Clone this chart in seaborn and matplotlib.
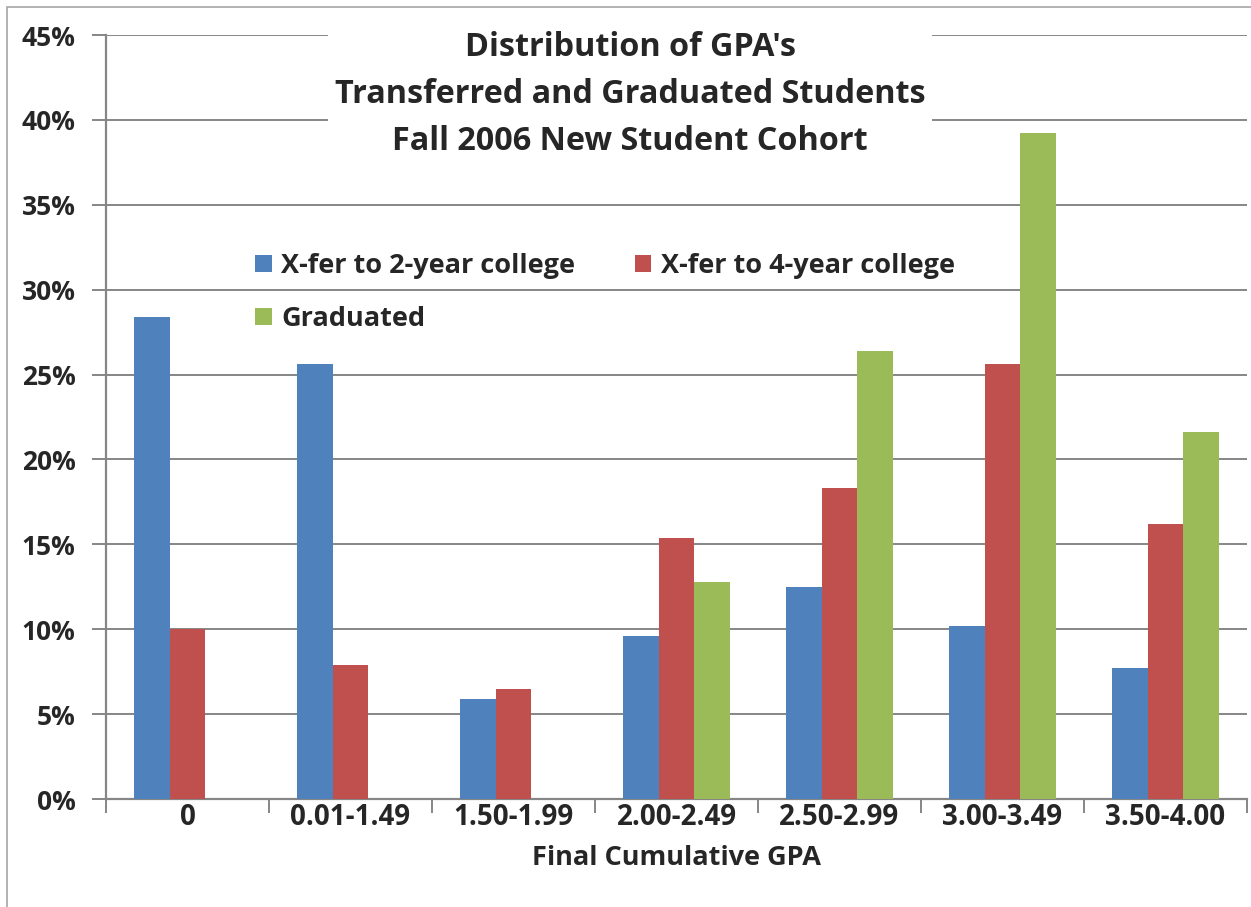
import matplotlib
matplotlib.use("Agg")
import matplotlib.pyplot as plt
from matplotlib.patches import Rectangle
from matplotlib.ticker import FuncFormatter, FixedLocator
import numpy as np
import pandas as pd
import seaborn as sns

categories = ["0", "0.01-1.49", "1.50-1.99", "2.00-2.49", "2.50-2.99", "3.00-3.49", "3.50-4.00"]
series_names = ["X-fer to 2-year college", "X-fer to 4-year college", "Graduated"]
xfer_2yr = [28.4, 25.6, 5.9, 9.6, 12.5, 10.2, 7.7]
xfer_4yr = [10.0, 7.9, 6.5, 15.4, 18.3, 25.6, 16.2]
graduated = [0.0, 0.0, 0.0, 12.8, 26.4, 39.2, 21.6]
colors = ["#4F81BD", "#C0504D", "#9BBB59"]

df = pd.DataFrame({
    "gpa": categories * 3,
    "series": np.repeat(series_names, len(categories)),
    "pct": xfer_2yr + xfer_4yr + graduated,
})

sns.set_style("white")
plt.rcParams["font.family"] = ["Open Sans", "DejaVu Sans"]
plt.rcParams["font.weight"] = "bold"

fig = plt.figure(figsize=(12.51, 9.07), dpi=100)
ax = fig.add_axes([106 / 1251, 1 - 799 / 907, (1247 - 106) / 1251, (799 - 35) / 907])

sns.barplot(data=df, x="gpa", y="pct", hue="series", order=categories,
            hue_order=series_names, palette=colors, saturation=1, width=0.66,
            linewidth=0, errorbar=None, ax=ax, zorder=3)

grid_c = "#868686"
ax.set_ylim(0, 45)
ax.set_xlim(-0.5, len(categories) - 0.5)
ax.set_yticks(np.arange(0, 46, 5))
ax.yaxis.set_major_formatter(FuncFormatter(lambda v, _: f"{v:.0f}%"))
ax.grid(True, axis="y", color=grid_c, linewidth=1.4, zorder=0)
ax.set_axisbelow(True)
for s in ["top", "right"]:
    ax.spines[s].set_visible(False)
for s in ["left", "bottom"]:
    ax.spines[s].set_color(grid_c)
    ax.spines[s].set_linewidth(1.6)

ax.tick_params(axis="y", which="major", left=True, length=10, width=1.4,
               color=grid_c, labelsize=19, pad=12)
ax.tick_params(axis="x", which="major", length=0, labelsize=20, pad=3)
ax.xaxis.set_minor_locator(FixedLocator(np.arange(-0.5, len(categories), 1.0)))
ax.tick_params(axis="x", which="minor", bottom=True, length=10, width=1.4, color=grid_c)
for lab in ax.get_xticklabels() + ax.get_yticklabels():
    lab.set_fontweight("bold")

ax.set_xlabel("Final Cumulative GPA", fontsize=19.5, fontweight="bold", labelpad=9)
ax.set_ylabel("")

# legend: two columns, row order blue/red then green
handles, labels = ax.get_legend_handles_labels()
order = [0, 2, 1]
ax.legend([handles[i] for i in order], [labels[i] for i in order], ncol=2,
          frameon=False, loc="upper left", bbox_to_anchor=(0.1215, 0.729),
          prop={"size": 19.5, "weight": "bold"}, handlelength=0.6, handleheight=0.6,
          handletextpad=0.35, columnspacing=2.2, labelspacing=1.0, borderaxespad=0)

ax.text(0.4593, 0.9215,
        "Distribution of GPA's\nTransferred and Graduated Students\nFall 2006 New Student Cohort",
        transform=ax.transAxes, ha="center", va="center", fontsize=23.3,
        fontweight="bold", linespacing=1.56, zorder=5,
        bbox=dict(facecolor="white", edgecolor="none", pad=5))

fig.patches.append(Rectangle((7 / 1251, -0.01), 1.2, 1 - 7 / 907 + 0.01,
                             transform=fig.transFigure, fill=False,
                             edgecolor="#A6A6A6", linewidth=1.2))

fig.savefig("out.png", dpi=100)
